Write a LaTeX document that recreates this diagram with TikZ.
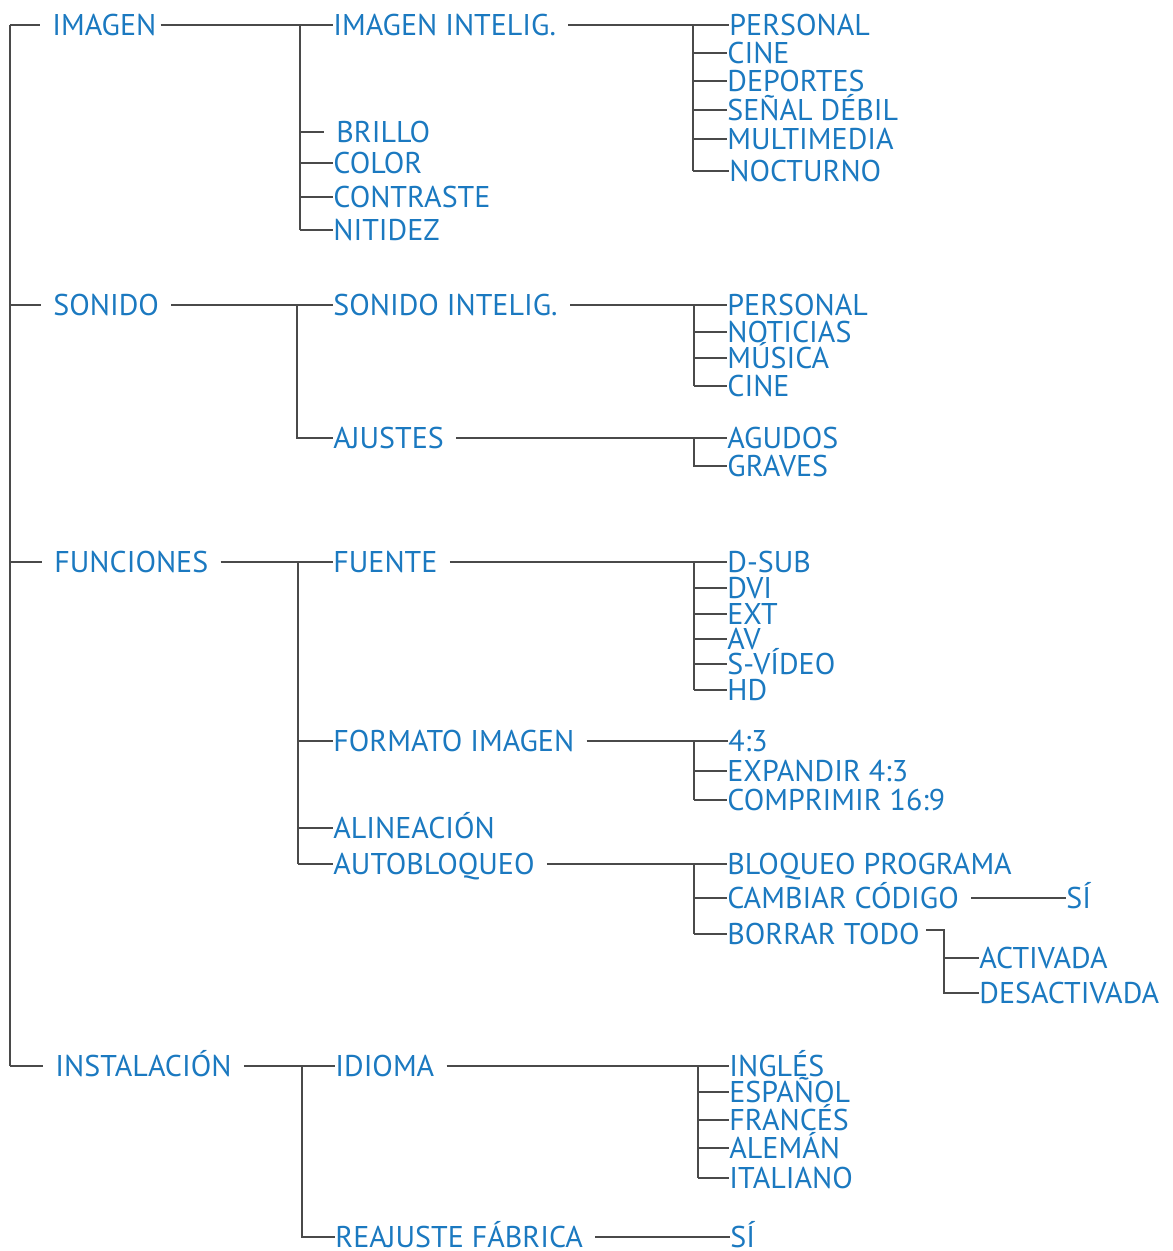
\documentclass[tikz,border=0pt]{standalone}
\usepackage{fontspec}
\setmainfont{PT Sans}
\usepackage{tikz}
\usetikzlibrary{calc}

\definecolor{menublue}{HTML}{1B79C0}
\definecolor{linegray}{HTML}{4A4A4A}

\begin{document}
\begin{tikzpicture}[
  x = 0.5pt, y = -0.5pt,
  item/.style = {anchor=west,inner xsep=0pt,inner ysep=0pt,text height=10.5pt,text depth=0pt,
    text=menublue,font=\fontsize{15}{15}\selectfont},
  link/.style = {draw=linegray,line width=1pt},
  gap/.style = {shorten <=6pt}
  ]
  \useasboundingbox (0,0) rectangle (1172,1251);

  % first level
  \node[item] (img)  at (52,25)    {IMAGEN};
  \node[item] (son)  at (53,305)   {SONIDO};
  \node[item] (func) at (54,562)   {FUNCIONES};
  \node[item] (inst) at (55,1066)  {INSTALACIÓN};

  % imagen
  \node[item] (imgint)    at (333,25)  {IMAGEN INTELIG.};
  \node[item] (brillo)    at (336,132) {BRILLO};
  \node[item] (color)     at (333,163) {COLOR};
  \node[item] (contraste) at (333,197) {CONTRASTE};
  \node[item] (nitidez)   at (333,230) {NITIDEZ};
  \node[item] (pers1) at (729,25)  {PERSONAL};
  \node[item] (cine1) at (727,53)  {CINE};
  \node[item] (dep)   at (727,81)  {DEPORTES};
  \node[item] (senal) at (727,110) {SEÑAL DÉBIL};
  \node[item] (multi) at (727,139) {MULTIMEDIA};
  \node[item] (noct)  at (729,171) {NOCTURNO};

  % sonido
  \node[item] (sonint)   at (333,305) {SONIDO INTELIG.};
  \node[item] (ajustes)  at (333,438) {AJUSTES};
  \node[item] (pers2)    at (727,305) {PERSONAL};
  \node[item] (noticias) at (727,332) {NOTICIAS};
  \node[item] (musica)   at (727,358) {MÚSICA};
  \node[item] (cine2)    at (727,386) {CINE};
  \node[item] (agudos)   at (727,438) {AGUDOS};
  \node[item] (graves)   at (727,466) {GRAVES};

  % funciones
  \node[item] (fuente)  at (333,562) {FUENTE};
  \node[item] (formato) at (333,741) {FORMATO IMAGEN};
  \node[item] (alin)    at (333,828) {ALINEACIÓN};
  \node[item] (autob)   at (333,864) {AUTOBLOQUEO};
  \node[item] (dsub)    at (727,562) {D-SUB};
  \node[item] (dvi)     at (727,588) {DVI};
  \node[item] (ext)     at (727,614) {EXT};
  \node[item] (av)      at (727,639) {AV};
  \node[item] (svideo)  at (727,664) {S-VÍDEO};
  \node[item] (hd)      at (727,690) {HD};
  \node[item] (f43)     at (728,741) {4:3};
  \node[item] (exp43)   at (727,771) {EXPANDIR 4:3};
  \node[item] (comp169) at (727,800) {COMPRIMIR 16:9};
  \node[item] (bloq)    at (727,864) {BLOQUEO PROGRAMA};
  \node[item] (cambiar) at (727,898) {CAMBIAR CÓDIGO};
  \node[item] (borrar)  at (727,934) {BORRAR TODO};
  \node[item] (si1)     at (1066,898) {SÍ};
  \node[item] (activ)   at (979,958) {ACTIVADA};
  \node[item] (desact)  at (979,993) {DESACTIVADA};

  % instalacion
  \node[item] (idioma)   at (335,1066) {IDIOMA};
  \node[item] (reajuste) at (335,1237) {REAJUSTE FÁBRICA};
  \node[item] (ingles)   at (729,1066) {INGLÉS};
  \node[item] (espanol)  at (729,1092) {ESPAÑOL};
  \node[item] (frances)  at (729,1120) {FRANCÉS};
  \node[item] (aleman)   at (729,1148) {ALEMÁN};
  \node[item] (italiano) at (729,1178) {ITALIANO};
  \node[item] (si2)      at (730,1237) {SÍ};

  % bus lines
  \coordinate (b0) at (10,0);
  \coordinate (b-img) at (300,0);
  \coordinate (b-imgint) at (693,0);
  \coordinate (b-son) at (297,0);
  \coordinate (b-sub) at (694,0);
  \coordinate (b-func) at (298,0);
  \coordinate (b-borrar) at (944,0);
  \coordinate (b-inst) at (302,0);
  \coordinate (b-idioma) at (698,0);

  \draw[link] (img.west -| b0) -- (inst.west -| b0);
  \foreach \n in {img,son,func,inst}
    \draw[link,shorten >=6pt] (\n.west -| b0) -- (\n.west);

  \draw[link,shorten <=2pt] (img.east) -- (imgint.west);
  \draw[link] (imgint.west -| b-img) -- (nitidez.west -| b-img);
  \draw[link,shorten >=6pt] (brillo.west -| b-img) -- (brillo.west);
  \foreach \n in {color,contraste,nitidez}
    \draw[link] (\n.west -| b-img) -- (\n.west);

  \draw[link,gap] (imgint.east) -- (pers1.west);
  \draw[link] (pers1.west -| b-imgint) -- (noct.west -| b-imgint);
  \foreach \n in {cine1,dep,senal,multi,noct}
    \draw[link] (\n.west -| b-imgint) -- (\n.west);

  \draw[link,gap] (son.east) -- (sonint.west);
  \draw[link] (sonint.west -| b-son) -- (ajustes.west -| b-son) -- (ajustes.west);
  \draw[link,gap] (sonint.east) -- (pers2.west);
  \draw[link] (pers2.west -| b-sub) -- (cine2.west -| b-sub);
  \foreach \n in {noticias,musica,cine2}
    \draw[link] (\n.west -| b-sub) -- (\n.west);
  \draw[link,gap] (ajustes.east) -- (agudos.west);
  \draw[link] (agudos.west -| b-sub) -- (graves.west -| b-sub) -- (graves.west);

  \draw[link,gap] (func.east) -- (fuente.west);
  \draw[link] (fuente.west -| b-func) -- (autob.west -| b-func);
  \foreach \n in {formato,alin,autob}
    \draw[link] (\n.west -| b-func) -- (\n.west);
  \draw[link,gap] (fuente.east) -- (dsub.west);
  \draw[link] (dsub.west -| b-sub) -- (hd.west -| b-sub);
  \foreach \n in {dvi,ext,av,svideo,hd}
    \draw[link] (\n.west -| b-sub) -- (\n.west);
  \draw[link,gap] (formato.east) -- (f43.west);
  \draw[link] (f43.west -| b-sub) -- (comp169.west -| b-sub);
  \foreach \n in {exp43,comp169}
    \draw[link] (\n.west -| b-sub) -- (\n.west);
  \draw[link,gap] (autob.east) -- (bloq.west);
  \draw[link] (bloq.west -| b-sub) -- (borrar.west -| b-sub);
  \foreach \n in {cambiar,borrar}
    \draw[link] (\n.west -| b-sub) -- (\n.west);
  \draw[link,gap] (cambiar.east) -- (si1.west);
  \draw[link,shorten <=3pt] ([yshift=2pt]borrar.east) -| (desact.west -| b-borrar) -- (desact.west);
  \draw[link] (activ.west -| b-borrar) -- (activ.west);

  \draw[link,gap] (inst.east) -- (idioma.west);
  \draw[link] (idioma.west -| b-inst) -- (reajuste.west -| b-inst) -- (reajuste.west);
  \draw[link,gap] (idioma.east) -- (ingles.west);
  \draw[link] (ingles.west -| b-idioma) -- (italiano.west -| b-idioma);
  \foreach \n in {espanol,frances,aleman,italiano}
    \draw[link] (\n.west -| b-idioma) -- (\n.west);
  \draw[link,gap] (reajuste.east) -- (si2.west);
\end{tikzpicture}
\end{document}
